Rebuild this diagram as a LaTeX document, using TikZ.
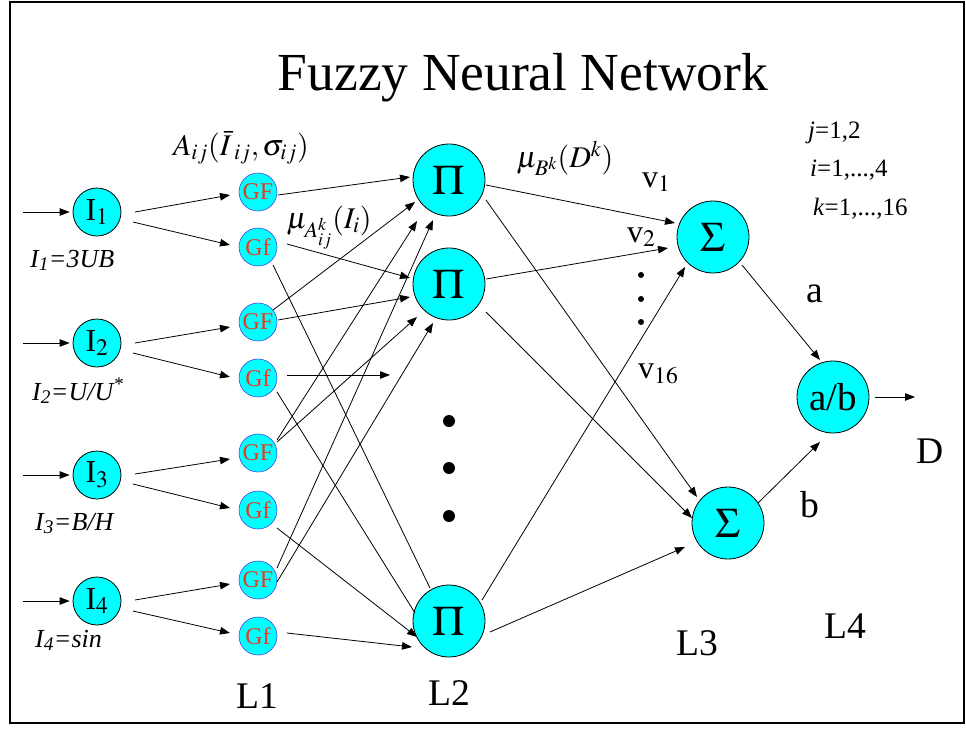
\documentclass[tikz,border=0pt]{standalone}
\usepackage{mathptmx}
\usepackage[no-math]{fontspec}
\setmainfont{Liberation Serif}
\usetikzlibrary{arrows.meta,calc}
\definecolor{nodecyan}{RGB}{0,255,255}
\definecolor{gfred}{RGB}{230,60,30}
\definecolor{gfblue}{RGB}{70,70,230}
\newcommand{\fsz}[1]{\fontsize{#1}{#1}\selectfont}
\begin{document}
\begin{tikzpicture}[x=1pt,y=-1pt,
  bignode/.style={circle,draw=black,fill=nodecyan,line width=0.8pt,minimum size=72pt,inner sep=0pt,font=\fsz{42}},
  inpnode/.style={circle,draw=black,fill=nodecyan,line width=0.8pt,minimum size=48pt,inner sep=0pt,font=\fsz{32}},
  gfnode/.style={circle,draw=gfblue,fill=nodecyan,line width=0.6pt,minimum size=38pt,inner sep=0pt,font=\fsz{24},text=gfred},
  arr/.style={line width=0.8pt,-{Triangle[length=10pt,width=7.5pt]}},
  plainln/.style={line width=0.8pt},
  lbl/.style={inner sep=0pt,anchor=base},
  lblw/.style={inner sep=0pt,anchor=base west},
  bigdot/.style={circle,fill=black,minimum size=12pt,inner sep=0pt},
  smalldot/.style={circle,fill=black,minimum size=6pt,inner sep=0pt},
]
\useasboundingbox (0,0) rectangle (966,729);
\draw[line width=1.3pt] (10,2) rectangle (964,723);

% title
\node[lbl,font=\fsz{53.5}] (title) at (523,90) {Fuzzy Neural Network};

% input nodes
\node[inpnode] (I1) at (97,212) {I$_1$};
\node[inpnode] (I2) at (97,343) {I$_2$};
\node[inpnode] (I3) at (97,475) {I$_3$};
\node[inpnode] (I4) at (97,601) {I$_4$};

\node[lblw,font=\fsz{26}\itshape] (l1) at (30,267) {I\textsubscript{1}=3UB};
\node[lblw,font=\fsz{26}\itshape] (l2) at (32,400) {I\textsubscript{2}=U/U\textsuperscript{*}};
\node[lblw,font=\fsz{26}\itshape] (l3) at (35,530) {I\textsubscript{3}=B/H};
\node[lblw,font=\fsz{26}\itshape] (l4) at (35,647) {I\textsubscript{4}=sin};

\coordinate (x1) at (23,212);
\coordinate (x2) at (23,343);
\coordinate (x3) at (23,475);
\coordinate (x4) at (23,601);

% membership nodes
\node[gfnode] (GF1) at (258,192) {GF};
\node[gfnode] (Gf1) at (258,247) {Gf};
\node[gfnode] (GF2) at (258,322) {GF};
\node[gfnode] (Gf2) at (258,378) {Gf};
\node[gfnode] (GF3) at (258,453) {GF};
\node[gfnode] (Gf3) at (258,510) {Gf};
\node[gfnode] (GF4) at (258,580) {GF};
\node[gfnode] (Gf4) at (258,636) {Gf};

% rule nodes
\node[bignode] (P1) at (449,180) {$\Pi$};
\node[bignode] (P2) at (449,284) {$\Pi$};
\node[bignode] (P3) at (449,621) {$\Pi$};
\node[bigdot] (d1) at (449,421) {};
\node[bigdot] (d2) at (449,468) {};
\node[bigdot] (d3) at (449,516) {};

% sum nodes
\node[bignode] (S1) at (713,237) {$\Sigma$};
\node[bignode] (S2) at (728,523) {$\Sigma$};
\node[bignode,font=\fsz{39}] (AB) at (833,397) {a/b};
\coordinate (out) at (915,397);
\coordinate (g2end) at (390,375);

\node[smalldot] (e1) at (641,275) {};
\node[smalldot] (e2) at (641,299) {};
\node[smalldot] (e3) at (641,322) {};

% labels
\node[lbl,font=\fsz{30}] (alab) at (241,155) {$A_{ij}(\bar{I}_{\;ij},\sigma_{ij})$};
\node[lbl,font=\fsz{30}] (mulab) at (329,228) {$\mu_{A_{ij}^{k}}(I_{i})$};
\node[lbl,font=\fsz{30}] (mublab) at (565,167) {$\mu_{B^{k}}(D^{k})$};
\node[lblw,font=\fsz{32}] (v1) at (642,187) {v$_1$};
\node[lblw,font=\fsz{32}] (v2) at (627,242) {v$_2$};
\node[lblw,font=\fsz{32}] (v16) at (638,378) {v$_{16}$};
\node[lblw,font=\fsz{25}] (jl) at (808,138) {\textit{j}=1,2};
\node[lblw,font=\fsz{25}] (il) at (810,176) {\textit{i}=1,...,4};
\node[lblw,font=\fsz{25}] (kl) at (813,215) {\textit{k}=1,...,16};
\node[lblw,font=\fsz{37.6}] (al) at (806,302) {a};
\node[lblw,font=\fsz{37.6}] (bl) at (800,517) {b};
\node[lblw,font=\fsz{37.6}] (Dl) at (916,463) {D};
\node[lbl,font=\fsz{37.6}] (L1) at (257,708) {L1};
\node[lbl,font=\fsz{37.6}] (L2) at (449,705) {L2};
\node[lbl,font=\fsz{37.6}] (L3) at (697,655) {L3};
\node[lbl,font=\fsz{37.6}] (L4) at (845,638) {L4};

% input arrows
\draw[arr,shorten >=3pt] (x1) -- (I1);
\draw[arr,shorten >=3pt] (x2) -- (I2);
\draw[arr,shorten >=3pt] (x3) -- (I3);
\draw[arr,shorten >=3pt] (x4) -- (I4);

% inputs to membership
\draw[arr] ($(I1)+(38,0)$) -- ($(GF1)+(-28,3)$);
\draw[arr] ($(I1)+(36,10)$) -- ($(Gf1)+(-28,-2)$);
\draw[arr] ($(I2)+(38,0)$) -- ($(GF2)+(-28,5)$);
\draw[arr] ($(I2)+(36,10)$) -- ($(Gf2)+(-28,-1)$);
\draw[arr] ($(I3)+(38,-1)$) -- ($(GF3)+(-28,6)$);
\draw[arr] ($(I3)+(36,9)$) -- ($(Gf3)+(-28,-2)$);
\draw[arr] ($(I4)+(38,-1)$) -- ($(GF4)+(-28,4)$);
\draw[arr] ($(I4)+(36,10)$) -- ($(Gf4)+(-28,-3)$);

% membership to rules
\draw[arr] ($(GF1)+(20,3)$) -- ($(P1)+(-39,-3)$);
\draw[arr] ($(GF2)+(15,-12)$) -- ($(P1)+(-34,22)$);
\draw[arr] ($(GF3)+(19,-13)$) -- ($(P1)+(-32,41)$);
\draw[arr] ($(GF4)+(19,-12)$) -- ($(P1)+(-16,40)$);
\draw[arr] ($(Gf1)+(29,-3)$) -- ($(P2)+(-39,-6)$);
\draw[arr] ($(GF2)+(20,-2)$) -- ($(P2)+(-39,13)$);
\draw[arr] ($(GF3)+(19,-11)$) -- ($(P2)+(-32,33)$);
\draw[arr] ($(GF4)+(19,2)$) -- ($(P2)+(-16,39)$);
\draw[plainln] ($(Gf1)+(15,18)$) -- ($(P3)+(-19,-33)$);
\draw[plainln] ($(Gf2)+(19,14)$) -- ($(P3)+(-34,-8)$);
\draw[arr] ($(Gf3)+(19,18)$) -- ($(P3)+(-32,16)$);
\draw[arr] ($(Gf4)+(29,-3)$) -- ($(P3)+(-37,26)$);
\draw[arr] ($(Gf2)+(29,-3)$) -- (g2end);

% rules to sums
\draw[arr] ($(P1)+(37,5)$) -- ($(S1)+(-38,-14)$);
\draw[arr] ($(P1)+(37,20)$) -- ($(S2)+(-31,-26)$);
\draw[arr] ($(P2)+(37,-5)$) -- ($(S1)+(-45,11)$);
\draw[arr] ($(P2)+(37,28)$) -- ($(S2)+(-36,-5)$);
\draw[arr] ($(P3)+(33,-21)$) -- ($(S1)+(-28,30)$);
\draw[arr] ($(P3)+(41,11)$) -- ($(S2)+(-43,24)$);

% sums to division
\draw[arr] ($(S1)+(29,28)$) -- ($(AB)+(-13,-37)$);
\draw[arr] ($(S2)+(30,-20)$) -- ($(AB)+(-13,45)$);
\draw[arr,shorten <=6pt] (AB) -- (out);
\end{tikzpicture}
\end{document}
